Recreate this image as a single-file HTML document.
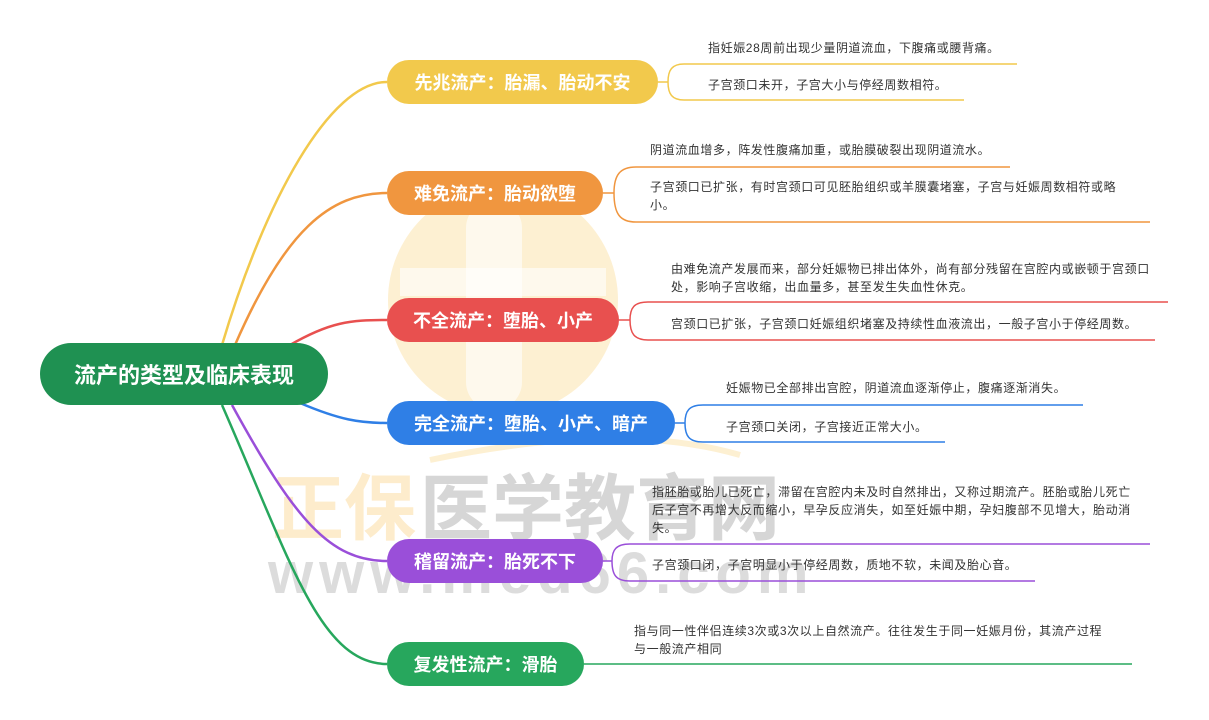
<!DOCTYPE html>
<html><head><meta charset="utf-8"><style>
body{margin:0;background:#fff;width:1209px;height:720px;overflow:hidden;position:relative;font-family:"Liberation Sans","Noto Sans CJK SC",sans-serif}
.n{position:absolute;color:#fff;font-weight:bold;font-size:18px;display:flex;align-items:center;justify-content:center;border-radius:22px;height:44px;left:387px}
.t{position:absolute;font-size:12px;color:#333;line-height:18px;white-space:nowrap;letter-spacing:0.6px}
svg{position:absolute;left:0;top:0}
.wm{position:absolute;font-weight:bold;white-space:nowrap}
</style></head><body>
<svg width="1209" height="720">
<circle cx="503" cy="300" r="115" fill="#fdf0d2"/>
<rect x="466" y="200" width="56" height="210" rx="28" fill="#fff" opacity="0.6"/>
<rect x="400" y="268" width="206" height="28" fill="#fff" opacity="0.6"/>
<path d="M430 460 Q 620 420 740 455" stroke="#fdf0d2" stroke-width="6" fill="none"/>
</svg>
<div class="wm" style="left:272px;top:450px;font-size:72px;color:#fdeccc">正保</div>
<div class="wm" style="left:420px;top:450px;font-size:72px;color:#d6d6d6">医学教育网</div>
<div class="wm" style="left:268px;top:540px;font-size:58px;color:#dcdcdc;letter-spacing:6px;font-family:'Liberation Sans',sans-serif">www.med66.com</div>
<svg width="1209" height="720" fill="none" stroke-width="2.5">
<path d="M222 345 C 265 200 330 82 387 82" stroke="#f2c94c"/>
<path d="M235 345 C 285 230 330 193 387 193" stroke="#f0963f"/>
<path d="M290 345 C 330 322 350 320 387 320" stroke="#e8504f"/>
<path d="M300 403 C 340 420 360 423 387 423" stroke="#2f7fe6"/>
<path d="M232 405 C 295 520 330 561 387 561" stroke="#9a4fd9"/>
<path d="M222 405 C 290 560 320 664 387 664" stroke="#27a75d"/>
<g stroke-width="1.5">
<path d="M658 82H668 C668 70 672 64 684 64 H1017 M668 82 C668 94 672 100 684 100 H964" stroke="#f2c94c"/>
<path d="M603 193H614 C614 175 620 167 636 167 H1010 M614 193 C614 214 620 222 636 222 H1150" stroke="#f0963f"/>
<path d="M619 320H630 C630 308 634 302 648 302 H1168 M630 320 C630 333 634 340 648 340 H1155" stroke="#e8504f"/>
<path d="M675 423H685 C685 411 689 405 703 405 H1083 M685 423 C685 436 689 442 703 442 H945" stroke="#2f7fe6"/>
<path d="M603 561H612 C612 550 616 544 630 544 H1150 M612 561 C612 575 616 581 630 581 H1035" stroke="#9a4fd9"/>
<path d="M584 664H1132" stroke="#27a75d"/>
</g>
</svg>
<div class="n" style="left:40px;top:343px;width:288px;height:62px;border-radius:31px;background:#1f9152;font-size:22px">流产的类型及临床表现</div>
<div class="n" style="top:60px;width:271px;background:#f2c94c">先兆流产：胎漏、胎动不安</div>
<div class="n" style="top:171px;width:216px;background:#f0963f">难免流产：胎动欲堕</div>
<div class="n" style="top:298px;width:232px;background:#e8504f">不全流产：堕胎、小产</div>
<div class="n" style="top:401px;width:288px;background:#2f7fe6">完全流产：堕胎、小产、暗产</div>
<div class="n" style="top:539px;width:216px;background:#9a4fd9">稽留流产：胎死不下</div>
<div class="n" style="top:642px;width:197px;background:#27a75d">复发性流产：滑胎</div>
<div class="t" style="left:708px;top:39px">指妊娠28周前出现少量阴道流血，下腹痛或腰背痛。</div>
<div class="t" style="left:708px;top:76px">子宫颈口未开，子宫大小与停经周数相符。</div>
<div class="t" style="left:650px;top:141px">阴道流血增多，阵发性腹痛加重，或胎膜破裂出现阴道流水。</div>
<div class="t" style="left:650px;top:178px">子宫颈口已扩张，有时宫颈口可见胚胎组织或羊膜囊堵塞，子宫与妊娠周数相符或略<br>小。</div>
<div class="t" style="left:671px;top:260px">由难免流产发展而来，部分妊娠物已排出体外，尚有部分残留在宫腔内或嵌顿于宫颈口<br>处，影响子宫收缩，出血量多，甚至发生失血性休克。</div>
<div class="t" style="left:671px;top:315px">宫颈口已扩张，子宫颈口妊娠组织堵塞及持续性血液流出，一般子宫小于停经周数。</div>
<div class="t" style="left:726px;top:379px">妊娠物已全部排出宫腔，阴道流血逐渐停止，腹痛逐渐消失。</div>
<div class="t" style="left:726px;top:418px">子宫颈口关闭，子宫接近正常大小。</div>
<div class="t" style="left:652px;top:483px">指胚胎或胎儿已死亡，滞留在宫腔内未及时自然排出，又称过期流产。胚胎或胎儿死亡<br>后子宫不再增大反而缩小，早孕反应消失，如至妊娠中期，孕妇腹部不见增大，胎动消<br>失。</div>
<div class="t" style="left:652px;top:556px">子宫颈口闭，子宫明显小于停经周数，质地不软，未闻及胎心音。</div>
<div class="t" style="left:634px;top:622px">指与同一性伴侣连续3次或3次以上自然流产。往往发生于同一妊娠月份，其流产过程<br>与一般流产相同</div>
</body></html>
